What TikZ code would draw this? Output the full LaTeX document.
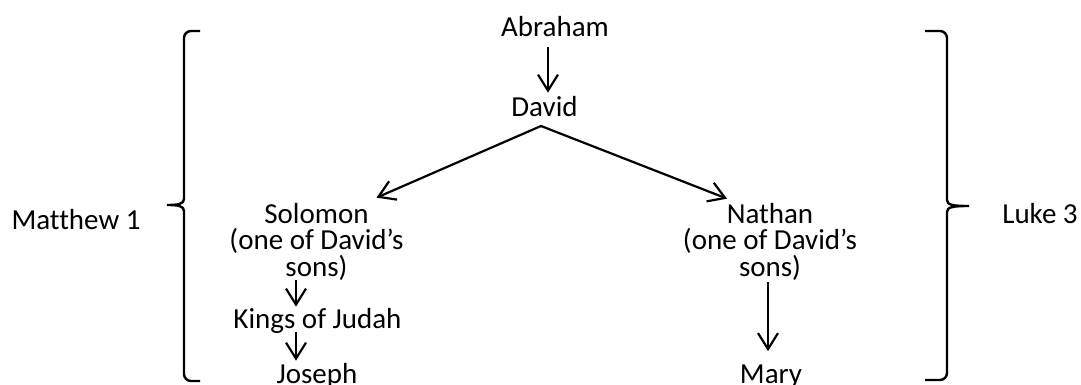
\documentclass[tikz,border=0pt]{standalone}
\usepackage{fontspec}
\setmainfont{Carlito}[Ligatures=NoCommon]
\usetikzlibrary{arrows.meta}

\begin{document}
\begin{tikzpicture}[x=1pt,y=1pt,
	person/.style={inner sep=0pt,align=center,font=\fontsize{29pt}{26.5pt}\selectfont},
	arr/.style={line width=2.2pt,-{Straight Barb[length=16pt,width=20pt]}},
	brace/.style={line width=2.4pt}]
			\useasboundingbox (0,0) rectangle (1081,-385);
			\node[person,anchor=base] (abraham) at (555,-37) {Abraham};
			\node[person,anchor=base] (david) at (544.5,-117) {David};
			\node[person,anchor=base] (solomon) at (316.5,-276) {Solomon\\(one of David's\\sons)};
			\node[person,anchor=base] (kings) at (317.5,-328) {Kings of Judah};
			\node[person,anchor=base] (joseph) at (317,-383) {Joseph};
			\node[person,anchor=base] (nathan) at (770,-276) {Nathan\\(one of David's\\sons)};
			\node[person,anchor=base] (mary) at (771,-383) {Mary};
			\node[person,anchor=base] (matthew) at (76,-229) {Matthew 1};
			\node[person,anchor=base] (luke) at (1040,-223) {Luke 3};
			\coordinate (split) at (541,-126);
			\draw[arr] ([xshift=3.5pt,yshift=-10pt]david.north |- abraham.south) -- ([xshift=3.5pt,yshift=4pt]david.north);
			\draw[arr,line cap=round] (split) -- ([xshift=60pt,yshift=5pt]solomon.north);
			\draw[arr,line cap=round] (split) -- ([xshift=-43pt,yshift=4pt]nathan.north);
			\draw[arr] ([xshift=-20.5pt]solomon.south) -- ([xshift=-21.5pt,yshift=1pt]kings.north);
			\draw[arr] ([xshift=-21.5pt,yshift=1pt]kings.south) -- ([xshift=-21pt,yshift=2pt]joseph.north);
			\draw[arr] ([xshift=-2pt,yshift=-2pt]nathan.south) -- ([xshift=-3pt,yshift=13pt]mary.north);
			\draw[brace] (200,-31) -- (191,-31) to[out=180,in=90] (184,-38) -- (184,-199)
				.. controls (184,-204) and (178,-205) .. (167,-205)
				.. controls (178,-205) and (184,-206) .. (184,-211) -- (184,-374)
				to[out=-90,in=180] (191,-381) -- (200,-381);
			\draw[brace] (925,-31) -- (940,-31) to[out=0,in=90] (947,-38) -- (947,-200)
				.. controls (947,-205) and (953,-206) .. (969,-206)
				.. controls (953,-206) and (947,-207) .. (947,-212) -- (947,-373)
				to[out=-90,in=0] (940,-380) -- (925,-380);
		\end{tikzpicture}
\end{document}
